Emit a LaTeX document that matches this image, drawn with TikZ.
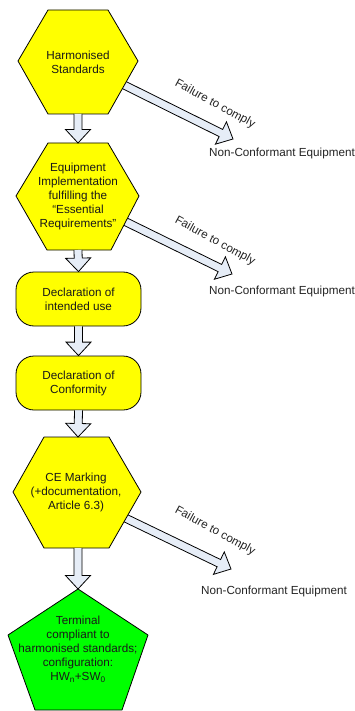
\documentclass[tikz,border=0pt]{standalone}
\usepackage{fontspec}
\setmainfont{Liberation Sans}
\usetikzlibrary{calc}
\definecolor{flowyellow}{RGB}{255,255,0}
\definecolor{flowgreen}{RGB}{0,255,0}
\definecolor{arrowfill}{RGB}{230,237,247}
\definecolor{inktext}{RGB}{35,35,35}
\tikzset{
  x=1pt,y=-1pt,
  shapeline/.style={draw=black,line width=0.8pt,line join=round},
  hexshape/.style={shapeline,fill=flowyellow},
  pentshape/.style={shapeline,fill=flowgreen},
  roundbox/.style={shapeline,fill=flowyellow,rounded corners=18pt,minimum width=125pt,minimum height=54pt,inner sep=0pt},
  blocktip/.style={draw=black,line width=0.8pt,fill=arrowfill,line join=miter},
  boxtext/.style={align=center,font=\fontsize{11.7}{14}\selectfont,text=black!90,inner sep=0pt},
  plaintext/.style={font=\fontsize{11.7}{14}\selectfont,text=inktext,inner sep=0pt},
  faillabel/.style={plaintext,rotate=-28.5},
}
\newcommand{\blockarrow}[2]{%
  \coordinate (neck) at ($(#2)!13.5pt!(#1)$);
  \draw[blocktip] ($(#1)!4pt!90:(#2)$) -- ($(neck)!4pt!90:(#2)$) -- ($(neck)!12.5pt!90:(#2)$) -- (#2)
    -- ($(neck)!12.5pt!-90:(#2)$) -- ($(neck)!4pt!-90:(#2)$) -- ($(#1)!4pt!-90:(#2)$);
}
\begin{document}
\begin{tikzpicture}
\useasboundingbox (0,0) rectangle (355,711);
\coordinate (hexAs) at (78,114);
\coordinate (hexBn) at (78,143);
\coordinate (hexBs) at (78,250);
\coordinate (hexCn) at (78,437);
\coordinate (hexCs) at (78,548);
\coordinate (pentN) at (78,589);
\coordinate (failAs) at (116,81);
\coordinate (failAe) at (233,139);
\coordinate (failBs) at (116,217);
\coordinate (failBe) at (232,274);
\coordinate (failCs) at (117,514);
\coordinate (failCe) at (231,569);
% failure arrows lie under the shapes they leave
\blockarrow{failAs}{failAe}
\blockarrow{failBs}{failBe}
\blockarrow{failCs}{failCe}
% shapes
\draw[hexshape] (48,10) -- (108,10) -- (138,61) -- (108,114) -- (48,114) -- (18,61) -- cycle;
\draw[hexshape] (48,143) -- (108,143) -- (139,196) -- (111,250) -- (47,250) -- (16,196) -- cycle;
\draw[hexshape] (44,437) -- (109,437) -- (141,492) -- (109,548) -- (44,548) -- (13,492) -- cycle;
\draw[pentshape] (78,589) -- (148,635) -- (122,710) -- (35,710) -- (8,635) -- cycle;
\node[roundbox] (useBox) at (78.5,299) {};
\node[roundbox] (confBox) at (78.5,383) {};
% text
\node[boxtext] (hexA) at (78,62) {Harmonised\\Standards};
\node[boxtext] (hexB) at (78,196.5) {Equipment\\Implementation\\fulfilling the\\“Essential\\Requirements”};
\node[boxtext] at (useBox) {Declaration of\\intended use};
\node[boxtext] at (confBox) {Declaration of\\Conformity};
\node[boxtext] (hexC) at (76,492) {CE Marking\\(+documentation,\\Article 6.3)};
\node[boxtext] (pent) at (78,649) {Terminal\\compliant to\\harmonised standards;\\configuration:\\HW\textsubscript{n}+SW\textsubscript{0}};
% arrows
\blockarrow{hexAs}{hexBn}
\blockarrow{hexBs}{useBox.north}
\blockarrow{useBox.south}{confBox.north}
\blockarrow{confBox.south}{hexCn}
\blockarrow{hexCs}{pentN}
% labels
\node[faillabel] (failA) at (215,104) {Failure to comply};
\node[faillabel] (failB) at (215,241) {Failure to comply};
\node[faillabel] (failC) at (215,531) {Failure to comply};
\node[plaintext] (ncA) at (282,153) {Non-Conformant Equipment};
\node[plaintext] (ncB) at (282,291) {Non-Conformant Equipment};
\node[plaintext] (ncC) at (274,591) {Non-Conformant Equipment};
\end{tikzpicture}
\end{document}
